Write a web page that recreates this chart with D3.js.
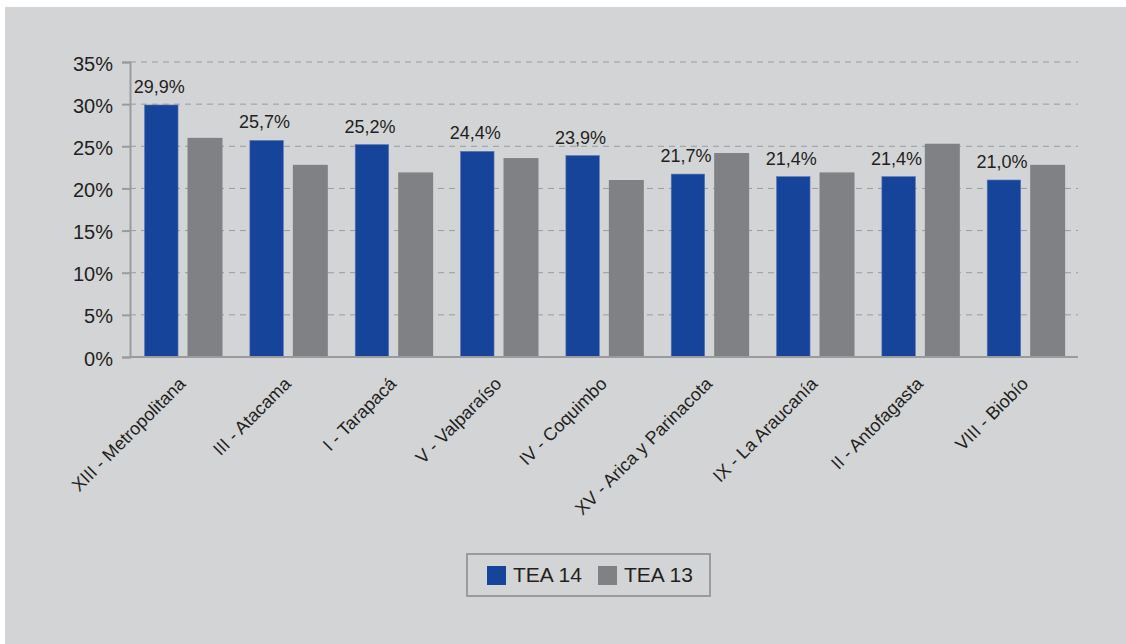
<!DOCTYPE html>
<html>
<head>
<meta charset="utf-8">
<script src="https://cdn.jsdelivr.net/npm/d3@7"></script>
<style>
  body { margin: 0; background: #fff; }
  svg { display: block; }
</style>
</head>
<body>
<div id="chart"></div>
<script>
const width = 1126;
const height = 644;
const panelColor = "#d3d4d6";
const blue = "#17449b";
const gray = "#808184";
const axisColor = "#9a9b9e";
const textColor = "#231f20";

// data
const regions = ["XIII - Metropolitana", "III - Atacama", "I - Tarapacá", "V - Valparaíso",
    "IV - Coquimbo", "XV - Arica y Parinacota", "IX - La Araucanía", "II - Antofagasta", "VIII - Biobío"];
const tea14 = [29.9, 25.7, 25.2, 24.4, 23.9, 21.7, 21.4, 21.4, 21.0];
const tea13 = [26.0, 22.8, 21.9, 23.6, 21.0, 24.2, 21.9, 25.3, 22.8];
const seriesNames = ["TEA 14", "TEA 13"];
const yTicks = [0, 5, 10, 15, 20, 25, 30, 35];

const margin = { left: 130, right: 48, top: 62, bottom: 287 };

const svg = d3.select("#chart")
    .append("svg")
    .attr("width", width)
    .attr("height", height)
    .style("font-family", "'Liberation Sans', Arial, sans-serif");

// gray panel
svg.append("rect")
    .attr("x", 5).attr("y", 7)
    .attr("width", width - 5).attr("height", height - 7)
    .attr("fill", panelColor);

const x = d3.scaleBand()
    .domain(regions)
    .range([margin.left, width - margin.right]);

const y = d3.scaleLinear()
    .domain([0, 35])
    .range([height - margin.bottom, margin.top]);

// dashed grid
svg.append("g")
    .selectAll("line")
    .data(yTicks.filter(d => d > 0))
    .join("line")
    .attr("x1", margin.left)
    .attr("x2", width - margin.right)
    .attr("y1", d => y(d))
    .attr("y2", d => y(d))
    .attr("stroke", axisColor)
    .attr("stroke-width", 1)
    .attr("stroke-dasharray", "6,5");

// y axis
const yAxis = svg.append("g")
    .attr("transform", `translate(${margin.left},0)`)
    .call(d3.axisLeft(y).tickValues(yTicks).tickSize(8).tickPadding(9).tickFormat(d => d + "%"));
yAxis.select(".domain").attr("stroke", axisColor).attr("stroke-width", 2);
yAxis.selectAll(".tick line").attr("stroke", axisColor).attr("stroke-width", 2);
yAxis.selectAll(".tick text")
    .attr("fill", textColor)
    .attr("dy", "0.4em")
    .style("font-size", "20px")
    .style("font-family", "'Liberation Sans', Arial, sans-serif");

// bars
const band = x.bandwidth();
const groups = svg.append("g")
    .selectAll("g")
    .data(regions)
    .join("g")
    .attr("transform", d => `translate(${x(d)},0)`);

groups.append("rect")
    .attr("x", band * 0.138)
    .attr("width", band * 0.318)
    .attr("y", (d, i) => y(tea14[i]))
    .attr("height", (d, i) => y(0) - y(tea14[i]))
    .attr("fill", blue)
    .attr("stroke", "#5a78b8")
    .attr("stroke-width", 0.6);

groups.append("rect")
    .attr("x", band * 0.546)
    .attr("width", band * 0.332)
    .attr("y", (d, i) => y(tea13[i]))
    .attr("height", (d, i) => y(0) - y(tea13[i]))
    .attr("fill", gray);

// value labels
groups.append("text")
    .attr("x", band * 0.138 + band * 0.159 - 2)
    .attr("y", (d, i) => y(tea14[i]) - 12)
    .attr("text-anchor", "middle")
    .attr("fill", textColor)
    .style("font-size", "18px")
    .text((d, i) => d3.format(".1f")(tea14[i]).replace(".", ",") + "%");

// x axis line
svg.append("line")
    .attr("x1", margin.left)
    .attr("x2", width - margin.right)
    .attr("y1", y(0))
    .attr("y2", y(0))
    .attr("stroke", axisColor)
    .attr("stroke-width", 2);

// x labels
groups.append("text")
    .attr("transform", `translate(${band / 2 + 4},${y(0) + 28}) rotate(-45)`)
    .attr("text-anchor", "end")
    .attr("fill", textColor)
    .style("font-size", "18px")
    .text(d => d);

// legend
const legend = svg.append("g").attr("transform", "translate(467,554)");
legend.append("rect")
    .attr("width", 243).attr("height", 42)
    .attr("fill", "none")
    .attr("stroke", axisColor)
    .attr("stroke-width", 2);

const items = legend.selectAll("g")
    .data(seriesNames)
    .join("g")
    .attr("transform", (d, i) => `translate(${20 + i * 111},12)`);
items.append("rect")
    .attr("width", 19).attr("height", 19)
    .attr("fill", (d, i) => i === 0 ? blue : gray);
items.append("text")
    .attr("x", 26).attr("y", 16)
    .attr("fill", textColor)
    .style("font-size", "21px")
    .text(d => d);
</script>
</body>
</html>
